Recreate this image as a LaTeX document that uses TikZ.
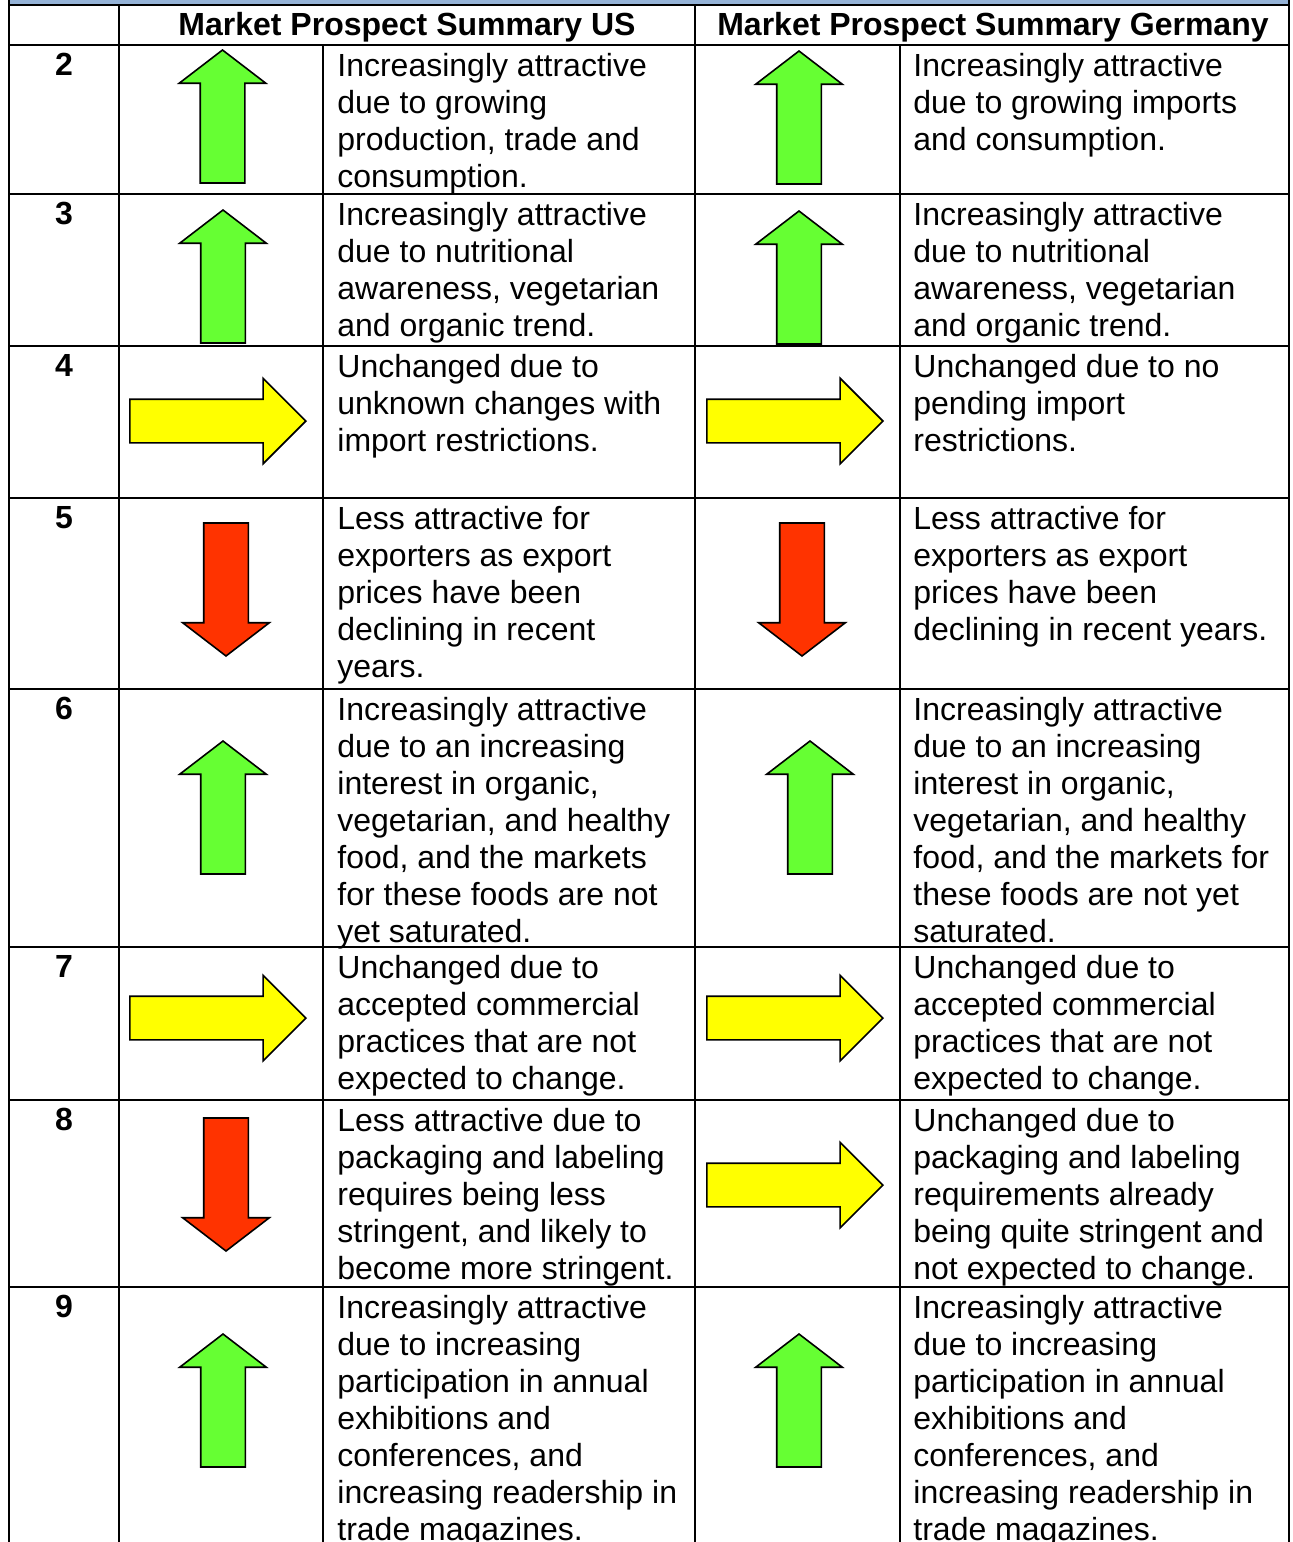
\documentclass[tikz,border=0pt]{standalone}
\usepackage{fontspec}
\setmainfont{Liberation Sans}
\usetikzlibrary{
        positioning,
        shapes.arrows
    }
\definecolor{upgreen}{HTML}{66FF33}
\definecolor{sameyellow}{HTML}{FFFF00}
\definecolor{downred}{HTML}{FF3300}
\definecolor{bandblue}{HTML}{95B3D7}
\tikzset{x=0.5pt,y=-0.5pt}
\tikzset{grid line/.style={draw=black,line width=1.3pt}}
\tikzset{cell text/.style={anchor=north west,inner sep=0pt,align=left,font=\fontsize{16}{18.5}\selectfont}}
\tikzset{head text/.style={anchor=base,inner sep=0pt,font=\fontsize{16}{18.5}\selectfont\bfseries}}
\tikzset{row num/.style={anchor=north,inner sep=0pt,font=\fontsize{16}{18.5}\selectfont\bfseries}}
\tikzset{trend arrow/.style={single arrow,draw=black,line width=0.8pt,inner xsep=0pt,minimum width=0pt,single arrow head extend=10.5pt,anchor=tip}}
\tikzset{up arrow/.style={trend arrow,fill=upgreen,rotate=90,inner ysep=10.75pt,minimum height=66.5pt,single arrow tip angle=105}}
\tikzset{down arrow/.style={trend arrow,fill=downred,rotate=-90,inner ysep=10.75pt,minimum height=66.5pt,single arrow tip angle=105}}
\tikzset{same arrow/.style={trend arrow,fill=sameyellow,inner ysep=10.5pt,minimum height=88pt,single arrow tip angle=90}}

\begin{document}
\begin{tikzpicture}
    \useasboundingbox (0,0) rectangle (1292,1542);
    % table frame
    \fill[bandblue] (9,0) rectangle (1289,5);
    \draw[grid line] (9,0) -- (9,1542);
    \draw[grid line] (1289,0) -- (1289,1542);
    \draw[grid line] (119,5) -- (119,1542);
    \draw[grid line] (695,5) -- (695,1542);
    \draw[grid line] (323,45) -- (323,1542);
    \draw[grid line] (900,45) -- (900,1542);
    \draw[grid line] (9,5) -- (1289,5);
    \draw[grid line] (9,45) -- (1289,45);
    \draw[grid line] (9,194) -- (1289,194);
    \draw[grid line] (9,346) -- (1289,346);
    \draw[grid line] (9,498) -- (1289,498);
    \draw[grid line] (9,689) -- (1289,689);
    \draw[grid line] (9,947) -- (1289,947);
    \draw[grid line] (9,1100) -- (1289,1100);
    \draw[grid line] (9,1287) -- (1289,1287);

    % header
    \node[head text] (hUS) at (407,35) {Market Prospect Summary US};
    \node[head text] (hDE) at (993,35) {Market Prospect Summary Germany};

    % row numbers
    \node[row num] (n2) at (64,53) {2};
    \node[row num] (n3) at (64,202) {3};
    \node[row num] (n4) at (64,354) {4};
    \node[row num] (n5) at (64,506) {5};
    \node[row num] (n6) at (64,697) {6};
    \node[row num] (n7) at (64,955) {7};
    \node[row num] (n8) at (64,1108) {8};
    \node[row num] (n9) at (64,1295) {9};

    % trend arrows
    \node[up arrow] (aUS2) at (222.5,49) {};
    \node[up arrow] (aDE2) at (799,50) {};
    \node[up arrow] (aUS3) at (223,209) {};
    \node[up arrow] (aDE3) at (799,210) {};
    \node[same arrow] (aUS4) at (307,421) {};
    \node[same arrow] (aDE4) at (884,421) {};
    \node[down arrow] (aUS5) at (226,657) {};
    \node[down arrow] (aDE5) at (802,657) {};
    \node[up arrow] (aUS6) at (223,740) {};
    \node[up arrow] (aDE6) at (810,740) {};
    \node[same arrow] (aUS7) at (307,1018) {};
    \node[same arrow] (aDE7) at (884,1018) {};
    \node[down arrow] (aUS8) at (226,1252) {};
    \node[same arrow] (aDE8) at (884,1185) {};
    \node[up arrow] (aUS9) at (223,1333) {};
    \node[up arrow] (aDE9) at (799,1333) {};

    % prospect texts, US
    \node[cell text] (tUS2) at (337,53) {Increasingly attractive\\due to growing\\production, trade and\\consumption.};
    \node[cell text] (tUS3) at (337,202) {Increasingly attractive\\due to nutritional\\awareness, vegetarian\\and organic trend.};
    \node[cell text] (tUS4) at (337,354) {Unchanged due to\\unknown changes with\\import restrictions.};
    \node[cell text] (tUS5) at (337,506) {Less attractive for\\exporters as export\\prices have been\\declining in recent\\years.};
    \node[cell text] (tUS6) at (337,697) {Increasingly attractive\\due to an increasing\\interest in organic,\\vegetarian, and healthy\\food, and the markets\\for these foods are not\\yet saturated.};
    \node[cell text] (tUS7) at (337,955) {Unchanged due to\\accepted commercial\\practices that are not\\expected to change.};
    \node[cell text] (tUS8) at (337,1108) {Less attractive due to\\packaging and labeling\\requires being less\\stringent, and likely to\\become more stringent.};
    \node[cell text] (tUS9) at (337,1295) {Increasingly attractive\\due to increasing\\participation in annual\\exhibitions and\\conferences, and\\increasing readership in\\trade magazines.};

    % prospect texts, Germany
    \node[cell text] (tDE2) at (913,53) {Increasingly attractive\\due to growing imports\\and consumption.};
    \node[cell text] (tDE3) at (913,202) {Increasingly attractive\\due to nutritional\\awareness, vegetarian\\and organic trend.};
    \node[cell text] (tDE4) at (913,354) {Unchanged due to no\\pending import\\restrictions.};
    \node[cell text] (tDE5) at (913,506) {Less attractive for\\exporters as export\\prices have been\\declining in recent years.};
    \node[cell text] (tDE6) at (913,697) {Increasingly attractive\\due to an increasing\\interest in organic,\\vegetarian, and healthy\\food, and the markets for\\these foods are not yet\\saturated.};
    \node[cell text] (tDE7) at (913,955) {Unchanged due to\\accepted commercial\\practices that are not\\expected to change.};
    \node[cell text] (tDE8) at (913,1108) {Unchanged due to\\packaging and labeling\\requirements already\\being quite stringent and\\not expected to change.};
    \node[cell text] (tDE9) at (913,1295) {Increasingly attractive\\due to increasing\\participation in annual\\exhibitions and\\conferences, and\\increasing readership in\\trade magazines.};
\end{tikzpicture}
\end{document}
